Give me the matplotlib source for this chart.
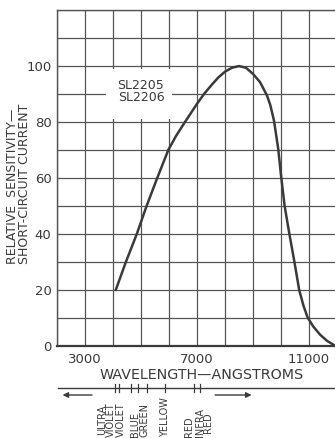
import matplotlib
matplotlib.use("Agg")
import matplotlib.pyplot as plt
import matplotlib.transforms as mtransforms
from matplotlib.patches import Rectangle

# spectral response
wavelength = [4100, 4460, 4850, 5200, 5580, 5975, 6250, 6570, 7000, 7250,
              7500, 7750, 8000, 8250, 8500, 8750, 9000, 9250, 9500, 9620, 9750,
              9900, 10000, 10130, 10300, 10480, 10650, 10800, 10950, 11150,
              11400, 11650, 11900]
sensitivity = [20, 30, 40, 50, 60, 70, 75, 80, 86.5, 90,
               93, 95.8, 98, 99.4, 100, 99.4, 97.2, 94.3, 89.5, 86, 80.5,
               70.5, 61, 50, 40, 30, 20, 14.5, 10.2, 7,
               4, 1.8, 0.3]

x_ticks = [3000, 7000, 11000]
y_ticks = [0, 20, 40, 60, 80, 100]
curve_label = "SL2205\nSL2206"

# colour band boundaries and names under the axis
band_edges = [4070, 4230, 4660, 4910, 5230, 5860, 6890, 7090]
band_names = ["ULTRA\nVIOLET", "VIOLET", "BLUE", "GREEN", "YELLOW", "RED", "INFRA\nRED"]
band_pos = [3770, 4270, 4790, 5140, 5860, 6700, 7250]

ink = "#3a3a3a"
grid_c = "#555555"

fig = plt.figure(figsize=(3.35, 4.38), dpi=100)
ax = fig.add_axes([0.170, 0.210, 0.836, 0.767])

ax.plot(wavelength, sensitivity, color=ink, lw=1.8, solid_capstyle="round",
        solid_joinstyle="round", zorder=3)

ax.set_xlim(2000, 12000)
ax.set_ylim(0, 120)
ax.set_xticks(range(2000, 12001, 1000), minor=True)
ax.set_yticks(range(0, 121, 10), minor=True)
ax.set_xticks(x_ticks)
ax.set_yticks(y_ticks)
ax.grid(True, which="both", color=grid_c, lw=0.9)
ax.tick_params(which="both", length=0)
ax.tick_params(axis="y", pad=4, labelsize=9.5, colors=ink)
ax.tick_params(axis="x", pad=5, labelsize=9.5, colors=ink)
for s in ax.spines.values():
    s.set_color(grid_c)
    s.set_linewidth(1.0)
ax.spines["bottom"].set_linewidth(1.6)
ax.spines["bottom"].set_color(ink)

# white patch behind the curve label
ax.add_patch(Rectangle((3750, 81), 2350, 18, facecolor="white", edgecolor="none", zorder=2))
ax.text(5000, 91, curve_label, ha="center", va="center", fontsize=9, color=ink,
        linespacing=0.95, zorder=4)

ax.set_xlabel("WAVELENGTH\u2014ANGSTROMS", fontsize=10.3, color=ink)
ax.xaxis.set_label_coords(0.518, -0.066)

fig.text(0.056, 0.58, "RELATIVE  SENSITIVITY\u2014\nSHORT-CIRCUIT CURRENT", rotation=90,
         ha="center", va="center", multialignment="left", fontsize=9,
         color=ink, linespacing=0.9)

# spectrum scale below the axis (x in data units, y in figure fraction)
tr = mtransforms.blended_transform_factory(ax.transData, fig.transFigure)
y_line = 1 - 388 / 438
ax.plot([2030, 12000], [y_line, y_line], transform=tr, color=ink, lw=1.0, clip_on=False)
for e in band_edges:
    ax.plot([e, e], [y_line - 0.010, y_line + 0.010], transform=tr, color=ink, lw=0.9,
            clip_on=False)
y_arrow = 1 - 395 / 438
ax.annotate("", xy=(2100, y_arrow), xytext=(3350, y_arrow), xycoords=tr, textcoords=tr,
            arrowprops=dict(arrowstyle="-|>", color=ink, lw=1.0, mutation_scale=8))
ax.annotate("", xy=(9050, y_arrow), xytext=(7550, y_arrow), xycoords=tr, textcoords=tr,
            arrowprops=dict(arrowstyle="-|>", color=ink, lw=1.0, mutation_scale=8))
for name, xp in zip(band_names, band_pos):
    ax.text(xp, 1 - 437 / 438, name, transform=tr, rotation=90, ha="center", va="bottom",
            multialignment="center", fontsize=7, color=ink, linespacing=0.82)

fig.savefig("out.png", dpi=100)
